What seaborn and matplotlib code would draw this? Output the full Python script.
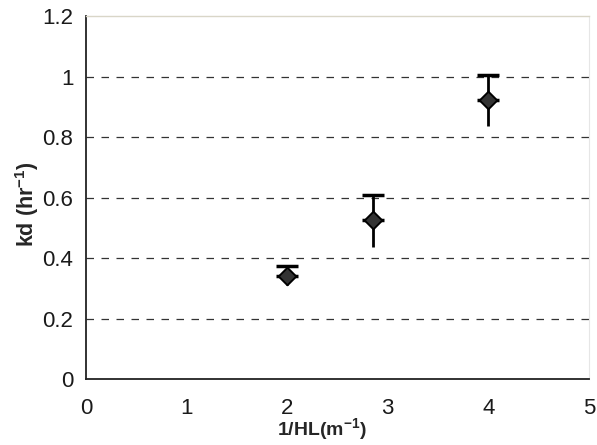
import numpy as np
import pandas as pd
import matplotlib
matplotlib.use("Agg")
import matplotlib.pyplot as plt
import seaborn as sns

# values
inv_hl = [2.0, 2.85, 4.0]
kd = [0.34, 0.526, 0.922]
err_up = [0.033, 0.081, 0.083]
err_low = [0.03, 0.088, 0.085]

x_ticks = [0, 1, 2, 3, 4, 5]
y_ticks = [0, 0.2, 0.4, 0.6, 0.8, 1, 1.2]
y_tick_labels = ["0", "0.2", "0.4", "0.6", "0.8", "1", "1.2"]

sns.set_theme(style="white")
plt.rcParams["font.family"] = ["Liberation Sans", "DejaVu Sans"]
plt.rcParams["mathtext.fontset"] = "custom"
plt.rcParams["mathtext.rm"] = "Liberation Sans"
plt.rcParams["mathtext.bf"] = "Liberation Sans:bold"

df = pd.DataFrame({"x": inv_hl, "y": kd, "up": err_up, "low": err_low})

fig = plt.figure(figsize=(5.97, 4.45), dpi=100)
ax = fig.add_axes([0.144, 0.1483, 0.8426, 0.8157])

# dashed horizontal grid
for yv in y_ticks[1:-1]:
    ax.axhline(yv, color="#333333", lw=0.9, ls=(0, (6, 6)), zorder=1)

# upper whisker with cap, lower whisker without cap
ax.errorbar(df["x"], df["y"], yerr=[np.zeros(len(df)), df["up"]],
            fmt="none", ecolor="black", elinewidth=2, capsize=8, capthick=2.5, zorder=2)
ax.errorbar(df["x"], df["y"], yerr=[df["low"], np.zeros(len(df))],
            fmt="none", ecolor="black", elinewidth=2, capsize=0, zorder=2)

sns.scatterplot(data=df, x="x", y="y", marker="D", s=80, color="#333333",
                edgecolor="black", linewidth=1.4, ax=ax, zorder=3, legend=False)

ax.set_xlim(0, 5)
ax.set_ylim(0, 1.2)
ax.set_xticks(x_ticks)
ax.set_yticks(y_ticks)
ax.set_yticklabels(y_tick_labels)
ax.tick_params(axis="both", direction="out", length=6, width=1, color="black",
               labelsize=16, labelcolor="#1a1a1a", pad=3)
ax.tick_params(axis="x", pad=8)

for side in ["left", "bottom"]:
    ax.spines[side].set_color("#222222")
    ax.spines[side].set_linewidth(1.3)
ax.spines["top"].set_color("#d9d6c8")
ax.spines["top"].set_linewidth(1.0)
ax.spines["right"].set_color("#e6e6e6")
ax.spines["right"].set_linewidth(0.8)

ax.set_xlabel(r"1/HL(m$^{\mathbf{-1}}$)", fontsize=14, fontweight="bold")
ax.set_ylabel(r"kd (hr$^{\mathbf{-1}}$)", fontsize=15.5, fontweight="bold")
ax.xaxis.set_label_coords(0.47, -0.104)
ax.yaxis.set_label_coords(-0.09, 0.482)

fig.savefig("out.png", dpi=100)
